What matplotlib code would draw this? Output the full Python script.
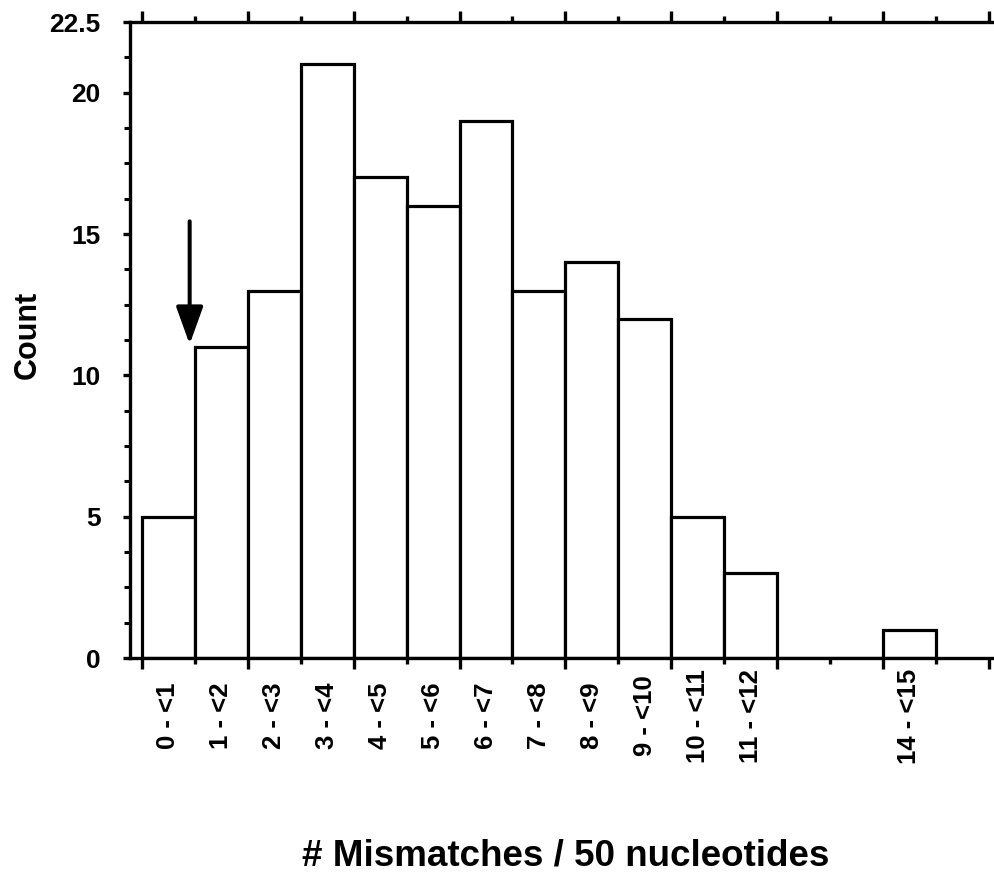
import matplotlib.pyplot as plt
from matplotlib.ticker import MultipleLocator

plt.rcParams['font.family'] = ['Liberation Sans', 'DejaVu Sans']
plt.rcParams['font.weight'] = 'bold'

# histogram bins: [lo, lo+1)
bin_lo = list(range(15))
counts = [5, 11, 13, 21, 17, 16, 19, 13, 14, 12, 5, 3, 0, 0, 1]
bin_labels = ["0 - <1", "1 - <2", "2 - <3", "3 - <4", "4 - <5", "5 - <6", "6 - <7",
              "7 - <8", "8 - <9", "9 - <10", "10 - <11", "11 - <12", "", "", "14 - <15"]
arrow_x = 0.9
arrow_from = 15.45
arrow_to = 11.1

fig = plt.figure(figsize=(9.94, 8.74), dpi=100)
ax = fig.add_axes([0.1308, 0.2471, 0.8692, 0.7277])

ax.bar(bin_lo, counts, width=1.0, align='edge', facecolor='white',
       edgecolor='black', linewidth=2.3, zorder=2)

ax.set_xlim(-0.227, 16.1)
ax.set_ylim(0, 22.5)

# spines
for s in ['left', 'bottom', 'top']:
    ax.spines[s].set_linewidth(2.4)
ax.spines['right'].set_visible(False)

# y ticks
ax.set_yticks([0, 5, 10, 15, 20, 22.5])
ax.set_yticklabels(["0", "5", "10", "15", "20", "22.5"])
ax.yaxis.set_minor_locator(MultipleLocator(1.25))
ax.tick_params(axis='y', which='major', direction='out', length=5, width=2.4,
               labelsize=19, pad=16)
ax.tick_params(axis='y', which='minor', direction='out', length=4, width=2.2)

# x ticks: major on even, minor on odd, top and bottom
ax.xaxis.set_major_locator(MultipleLocator(2))
ax.xaxis.set_minor_locator(MultipleLocator(1))
ax.tick_params(axis='x', which='major', direction='out', length=8, width=2.4,
               top=True, labelbottom=False)
ax.tick_params(axis='x', which='minor', direction='out', length=4, width=2.4,
               top=True)

# bin labels centred under bins
for lo, lab in zip(bin_lo, bin_labels):
    if lab:
        ax.text(lo + 0.5, -0.091, lab, transform=ax.get_xaxis_transform(),
                rotation=90, ha='center', va='center', fontsize=18.5,
                fontweight='bold')

ax.annotate("", xy=(arrow_x, arrow_to), xytext=(arrow_x, arrow_from),
            arrowprops=dict(arrowstyle='-|>,head_length=2.3,head_width=0.83',
                            color='black', lw=2.9, shrinkA=0, shrinkB=0))

fig.text(0.028, 0.617, "Count", rotation=90, ha='center', va='center',
         fontsize=22, fontweight='bold')
fig.text(0.569, 1 - 866 / 874, "# Mismatches / 50 nucleotides", ha='center',
         va='baseline', fontsize=26.5, fontweight='bold')

fig.savefig("out.png", dpi=100)
